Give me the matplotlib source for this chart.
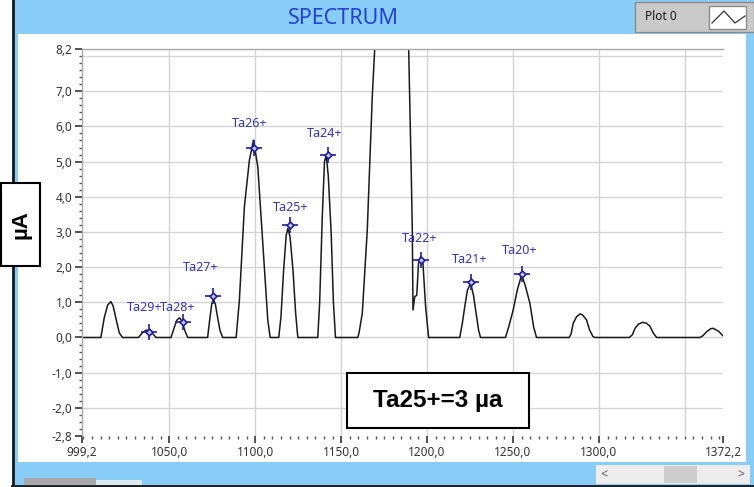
import numpy as np
import matplotlib
matplotlib.use("Agg")
from matplotlib import pyplot as plt
from matplotlib.patches import Rectangle
from matplotlib.lines import Line2D
from matplotlib.ticker import FixedLocator, MultipleLocator, FuncFormatter

plt.rcParams['font.family'] = ['Noto Sans', 'DejaVu Sans']

# spectrum trace (m/q, current in µA)
spec_x = [999.2, 1010.2, 1012.1, 1014.1, 1016.0, 1017.3, 1018.9, 1020.9, 1022.8,
          1032.0, 1034.5, 1036.5, 1039.0, 1040.5, 1042.3,
          1051.0, 1053.0, 1054.5, 1056.0, 1057.5, 1059.0, 1060.7,
          1072.3, 1073.5, 1074.7, 1075.7, 1076.8, 1078.0, 1079.5, 1081.1,
          1088.9, 1090.8, 1093.7, 1096.6, 1099.0, 1101.5, 1104.4, 1107.3, 1108.7,
          1113.7, 1115.0, 1116.5, 1118.0, 1119.0, 1120.3, 1122.0, 1123.5, 1124.8,
          1136.4, 1137.5, 1139.0, 1140.3, 1141.3, 1142.5, 1144.2, 1145.5, 1146.7,
          1159.7, 1160.4, 1162.3, 1165.2, 1168.1, 1169.5, 1172.0, 1180.0, 1188.0,
          1189.3, 1189.9, 1190.8, 1191.4, 1191.8, 1192.8, 1194.0, 1195.0, 1196.3,
          1197.6, 1199.2, 1200.9,
          1219.0, 1220.5, 1222.0, 1223.5, 1225.4, 1227.0, 1228.5, 1230.0, 1231.1,
          1245.6, 1247.5, 1250.1, 1252.5, 1255.0, 1257.0, 1259.8, 1262.0, 1263.7,
          1282.7, 1283.8, 1285.0, 1287.0, 1289.0, 1290.5, 1292.8, 1294.5, 1296.5, 1297.7,
          1317.7, 1319.5, 1321.0, 1323.0, 1325.5, 1327.5, 1329.7, 1331.7, 1333.6,
          1358.9, 1360.5, 1362.8, 1365.0, 1366.6, 1368.0, 1369.6, 1371.5, 1372.2]
spec_y = [0.0, 0.0, 0.55, 0.92, 1.02, 0.90, 0.55, 0.13, 0.0,
          0.0, 0.14, 0.21, 0.18, 0.10, 0.0,
          0.0, 0.30, 0.50, 0.56, 0.45, 0.20, 0.0,
          0.0, 0.50, 0.95, 1.08, 0.95, 0.60, 0.20, 0.0,
          0.0, 1.07, 3.72, 5.04, 5.61, 4.85, 2.68, 0.50, 0.0,
          0.0, 0.60, 1.90, 2.90, 3.10, 2.85, 1.90, 0.70, 0.0,
          0.0, 1.00, 3.40, 5.00, 5.18, 4.60, 2.96, 1.00, 0.0,
          0.0, 0.13, 0.69, 3.05, 6.84, 8.17, 11.5, 13.5, 11.3,
          8.20, 6.75, 4.67, 3.05, 0.78, 1.16, 1.20, 2.10, 2.30,
          2.10, 0.84, 0.0,
          0.0, 0.40, 0.90, 1.35, 1.54, 1.20, 0.70, 0.20, 0.0,
          0.0, 0.30, 0.78, 1.35, 1.78, 1.50, 0.98, 0.30, 0.0,
          0.0, 0.10, 0.40, 0.59, 0.67, 0.64, 0.50, 0.22, 0.03, 0.0,
          0.0, 0.08, 0.26, 0.38, 0.43, 0.41, 0.32, 0.12, 0.0,
          0.0, 0.05, 0.17, 0.25, 0.26, 0.22, 0.18, 0.08, 0.05]

# cursor markers with charge-state labels
peak_names = ['Ta29+', 'Ta28+', 'Ta27+', 'Ta26+', 'Ta25+', 'Ta24+', 'Ta22+', 'Ta21+', 'Ta20+']
peak_x = [1038.4, 1057.8, 1075.7, 1099.1, 1120.5, 1142.3, 1196.3, 1225.8, 1255.0]
peak_y = [0.165, 0.45, 1.18, 5.39, 3.20, 5.20, 2.20, 1.59, 1.80]
label_off = [(-5, 24), (-5, 14), (-13, 28), (-4, 24), (0, 17), (-3, 21), (-1, 22), (-2, 22), (-2, 24)]

x_ticks = [999.2, 1050.0, 1100.0, 1150.0, 1200.0, 1250.0, 1300.0, 1372.2]
y_ticks = [-2.8, -2.0, -1.0, 0.0, 1.0, 2.0, 3.0, 4.0, 5.0, 6.0, 7.0, 8.2]

W, H = 754, 487
fig = plt.figure(figsize=(W / 100, H / 100), dpi=100)
fig.patch.set_facecolor('white')


def px_rect(x0, y0, x1, y1, **kw):
    r = Rectangle((x0 / W, 1 - y1 / H), (x1 - x0) / W, (y1 - y0) / H,
                  transform=fig.transFigure, **kw)
    fig.add_artist(r)
    return r


def px_text(x, y, s, **kw):
    return fig.text(x / W, 1 - y / H, s, **kw)


def px_line(xs, ys, **kw):
    fig.add_artist(Line2D([v / W for v in xs], [1 - v / H for v in ys],
                          transform=fig.transFigure, **kw))


# LabVIEW-like frame
px_rect(12, 0, 754, 486, facecolor='#88CCF8', edgecolor='none', zorder=-10)
px_line([12.5, 12.5], [0, 486], color='#1a1a1a', lw=2, zorder=-9)
px_line([12, 754], [485.5, 485.5], color='#1a1a1a', lw=2, zorder=-9)
px_rect(18, 34, 746, 462, facecolor='white', edgecolor='none', zorder=-8)

# bottom scrollbar and tabs
px_rect(596, 465, 750, 484, facecolor='#EDEDED', edgecolor='none', zorder=-7)
px_rect(664, 466, 697, 483, facecolor='#CDCDCD', edgecolor='none', zorder=-6)
px_text(604, 475, '<', ha='center', va='center', fontsize=9, color='#555555')
px_text(741, 475, '>', ha='center', va='center', fontsize=9, color='#555555')
px_rect(24, 478, 96, 485, facecolor='#A8A8A8', edgecolor='none', zorder=-7)
px_rect(96, 480, 142, 485, facecolor='#DDE8F0', edgecolor='none', zorder=-7)

# title + plot legend
px_text(343, 19, 'SPECTRUM', ha='center', va='center', fontsize=15.5, color='#2440D8')
px_rect(635, 2, 754, 32, facecolor='#C9C9C9', edgecolor='#8A8A8A', lw=1, zorder=-5)
px_text(645, 17, 'Plot 0', ha='left', va='center', fontsize=8.5, color='#1a1a1a')
px_rect(709, 6, 746, 29, facecolor='white', edgecolor='#8A8A8A', lw=1, zorder=-4)
px_line([712, 724, 735, 745], [23, 11, 23, 16], color='#333333', lw=0.9, zorder=-3)

# plot area
ax = fig.add_axes([82 / W, 1 - 436 / H, (723 - 82) / W, (436 - 49) / H])
ax.set_facecolor('white')
ax.set_xlim(999.2, 1372.2)
ax.set_ylim(-2.8, 8.2)

for g in np.arange(-2, 9):
    ax.axhline(g, color='#D4D4D4', lw=1, zorder=0)
for g in np.arange(1050, 1351, 50):
    ax.axvline(g, color='#D4D4D4', lw=1, zorder=0)

ax.plot(spec_x, spec_y, color='#1a1a1a', lw=1.1, zorder=2)

ax.plot(peak_x, peak_y, linestyle='none', marker='+', markersize=11,
        markeredgewidth=1.2, color='#1F1FA0', zorder=3)
ax.plot(peak_x, peak_y, linestyle='none', marker='D', markersize=3.5,
        markerfacecolor='#C8C8F0', markeredgecolor='#1F1FA0', markeredgewidth=1.2, zorder=4)
for name, xv, yv, off in zip(peak_names, peak_x, peak_y, label_off):
    ax.annotate(name, (xv, yv), xytext=off, textcoords='offset pixels',
                ha='center', va='center', fontsize=9, color='#3333C0', zorder=5)

fmt = FuncFormatter(lambda v, p: f"{v:.1f}".replace('.', ','))
ax.xaxis.set_major_locator(FixedLocator(x_ticks))
ax.yaxis.set_major_locator(FixedLocator(y_ticks))
ax.xaxis.set_major_formatter(fmt)
ax.yaxis.set_major_formatter(fmt)
ax.xaxis.set_minor_locator(MultipleLocator(5))
ax.yaxis.set_minor_locator(MultipleLocator(0.2))
ax.tick_params(which='major', direction='out', length=5, width=1.2, color='#333333',
               labelsize=8.5, labelcolor='#333333', pad=2)
ax.tick_params(which='minor', direction='out', length=2.5, width=1, color='#555555')

for s in ['right', 'bottom']:
    ax.spines[s].set_visible(False)
for s in ['left', 'top']:
    ax.spines[s].set_color('#A8A8A8')
    ax.spines[s].set_linewidth(1)

# y-axis unit box and annotation box
px_rect(1, 183, 40, 266, facecolor='white', edgecolor='black', lw=1.5, zorder=10)
px_text(21, 224.5, 'µA', rotation=90, ha='center', va='center', fontsize=16,
        fontweight='bold', family=['Liberation Sans', 'DejaVu Sans'], zorder=11)
px_rect(347, 373, 529, 428, facecolor='white', edgecolor='black', lw=1.5, zorder=10)
px_text(438, 401, 'Ta25+=3 µa', ha='center', va='center', fontsize=17.5,
        fontweight='bold', family=['Liberation Sans', 'DejaVu Sans'], zorder=11)

fig.savefig('out.png', dpi=100)
